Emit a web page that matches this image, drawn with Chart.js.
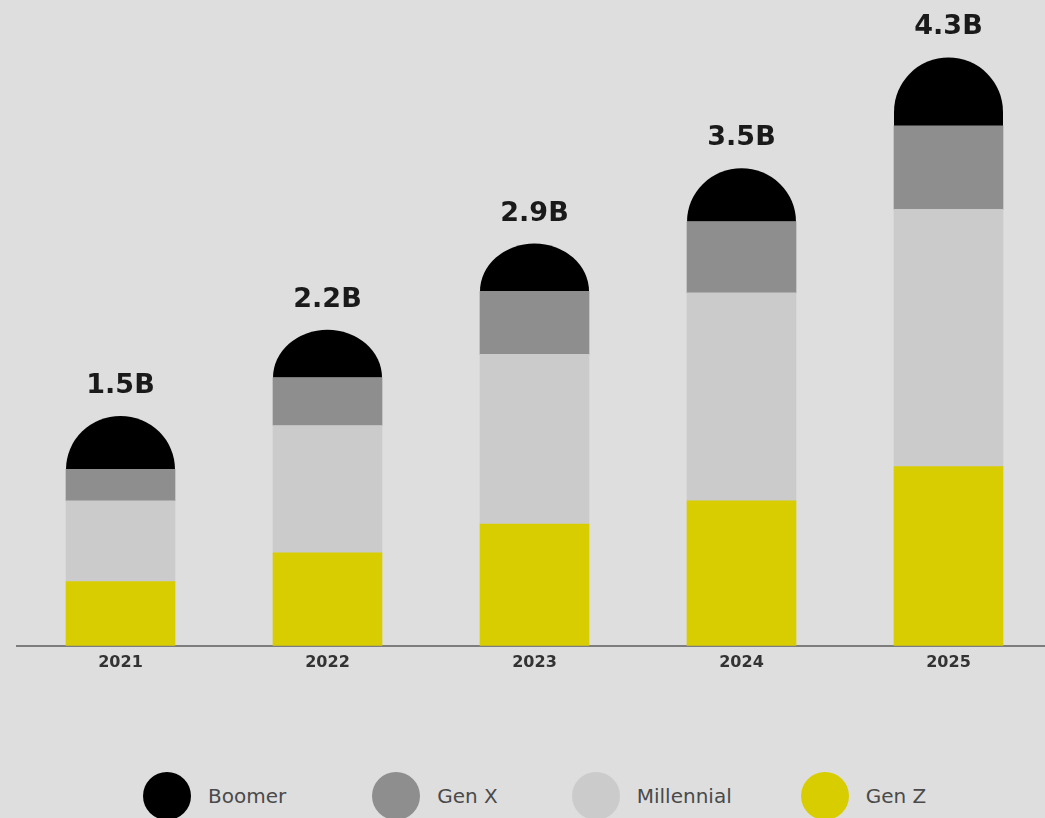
<!DOCTYPE html>
<html>
<head>
<meta charset="utf-8">
<style>
  html, body { margin: 0; padding: 0; background: #dedede; overflow: hidden; width: 1045px; height: 818px; }
  #wrap { position: absolute; left: 0; top: 0; width: 1052px; height: 679px; }
  #legend { position: absolute; left: 143px; top: 772px; display: flex; font-family: 'DejaVu Sans', sans-serif; font-size: 20px; color: #4a4a4a; }
  .item { display: flex; align-items: center; }
  .dot { width: 48px; height: 48px; border-radius: 50%; margin-right: 17px; }
</style>
</head>
<body>
<div id="wrap"><canvas id="genChart"></canvas></div>
<div id="legend"></div>
<script src="https://cdn.jsdelivr.net/npm/chart.js"></script>
<script>
    const years = ['2021', '2022', '2023', '2024', '2025'];
    const totalLabels = ['1.5B', '2.2B', '2.9B', '3.5B', '4.3B'];

    // segment sizes (billions), bottom to top
    const genZ = [0.47, 0.68, 0.89, 1.06, 1.31];
    const millennial = [0.59, 0.93, 1.24, 1.52, 1.88];
    const genX = [0.23, 0.35, 0.46, 0.52, 0.61];
    const boomer = [0.39, 0.35, 0.35, 0.39, 0.50];

    const ctx = document.getElementById('genChart').getContext('2d');

    // rounded "dome" on top of each stack
    const domeTop = {
        id: 'domeTop',
        beforeDatasetDraw(chart, args) {
            if (args.index !== 3) return;
            const c = chart.ctx;
            c.save();
            c.fillStyle = chart.data.datasets[3].backgroundColor;
            args.meta.data.forEach(bar => {
                const p = bar.getProps(['x', 'y', 'base', 'width'], true);
                const rx = p.width / 2;
                const h = p.base - p.y;
                const ry = Math.min(rx, h);
                c.beginPath();
                c.moveTo(p.x - rx, p.base);
                c.lineTo(p.x - rx, p.y + ry);
                c.ellipse(p.x, p.y + ry, rx, ry, 0, Math.PI, Math.PI * 2);
                c.lineTo(p.x + rx, p.base);
                c.closePath();
                c.fill();
            });
            c.restore();
            return false;
        }
    };

    const totalsOnTop = {
        id: 'totalsOnTop',
        afterDatasetsDraw(chart) {
            const c = chart.ctx;
            const meta = chart.getDatasetMeta(3);
            c.save();
            c.font = 'bold 27px "DejaVu Sans"';
            c.fillStyle = '#1a1a1a';
            c.textAlign = 'center';
            c.textBaseline = 'middle';
            meta.data.forEach((bar, i) => {
                c.fillText(totalLabels[i], bar.x, bar.y - 30);
            });
            c.restore();
        }
    };

    const chart = new Chart(ctx, {
        type: 'bar',
        data: {
            labels: years,
            datasets: [
                { label: 'Gen Z', data: genZ, backgroundColor: '#d8cd00' },
                { label: 'Millennial', data: millennial, backgroundColor: '#cbcbcb' },
                { label: 'Gen X', data: genX, backgroundColor: '#8e8e8e' },
                { label: 'Boomer', data: boomer, backgroundColor: '#000000' }
            ]
        },
        options: {
            responsive: true,
            maintainAspectRatio: false,
            animation: false,
            layout: { padding: { left: 17, right: 0, top: 0, bottom: 0 } },
            datasets: { bar: { barThickness: 109, borderWidth: 0 } },
            plugins: {
                legend: { display: false },
                tooltip: { enabled: false }
            },
            scales: {
                x: {
                    stacked: true,
                    grid: { display: false, drawTicks: false },
                    border: { display: true, color: '#7d7d7d', width: 2 },
                    ticks: {
                        padding: 7,
                        color: '#333',
                        font: { family: 'DejaVu Sans', size: 16, weight: 'bold' }
                    }
                },
                y: {
                    stacked: true,
                    display: false,
                    min: 0,
                    max: 4.72
                }
            }
        },
        plugins: [domeTop, totalsOnTop]
    });

    // legend, top of stack first
    const legendEl = document.getElementById('legend');
    const legendGaps = [0, 86, 74, 69];
    chart.data.datasets.slice().reverse().forEach((ds, i) => {
        const item = document.createElement('div');
        item.className = 'item';
        item.style.marginLeft = legendGaps[i] + 'px';
        const dot = document.createElement('span');
        dot.className = 'dot';
        dot.style.background = ds.backgroundColor;
        const txt = document.createElement('span');
        txt.textContent = ds.label;
        item.appendChild(dot);
        item.appendChild(txt);
        legendEl.appendChild(item);
    });
</script>
</body>
</html>
